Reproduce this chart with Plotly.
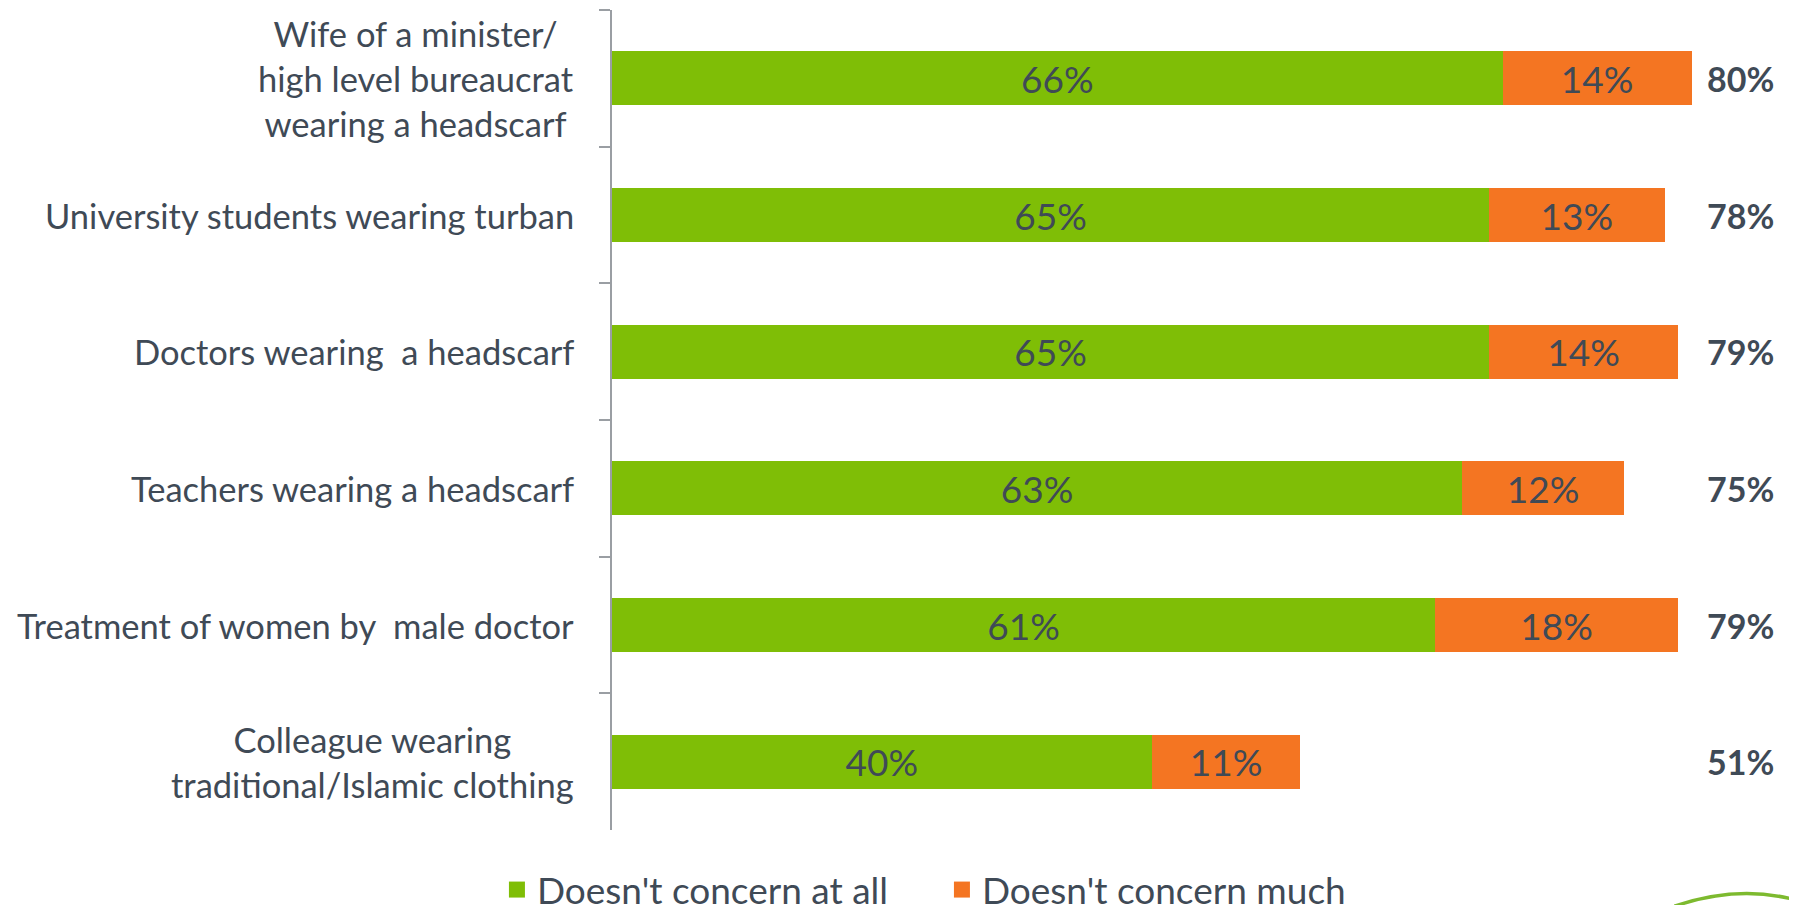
import plotly.graph_objects as go

categories = [
    "Wife of a minister/<br>high level bureaucrat<br>wearing a headscarf",
    "University students wearing turban",
    "Doctors wearing  a headscarf",
    "Teachers wearing a headscarf",
    "Treatment of women by  male doctor",
    "Colleague wearing<br>traditional/Islamic clothing",
]
not_at_all = [66, 65, 65, 63, 61, 40]
not_much = [14, 13, 14, 12, 18, 11]
totals = [80, 78, 79, 75, 79, 51]
series_names = ["Doesn't concern at all", "Doesn't concern much"]

GREEN = "#7FBE06"
ORANGE = "#F47522"
TEXT = "#3F4A56"
FONT = "Lato"

fig = go.Figure()
for name, vals, col in [(series_names[0], not_at_all, GREEN), (series_names[1], not_much, ORANGE)]:
    fig.add_trace(go.Bar(
        y=categories, x=vals, name=name, orientation="h",
        marker=dict(color=col, line=dict(width=0)),
        text=[f"{v}%" for v in vals], textposition="inside",
        insidetextanchor="middle", textangle=0,
        textfont=dict(family=FONT, size=37, color=TEXT),
        hoverinfo="skip", showlegend=False,
    ))
# legend entries with larger square swatches
for name, col in [(series_names[0], GREEN), (series_names[1], ORANGE)]:
    fig.add_trace(go.Scatter(
        x=[None], y=[None], mode="markers", name=name,
        marker=dict(symbol="square", size=21, color=col),
        showlegend=True, hoverinfo="skip",
    ))

annotations = []
for cat, tot in zip(categories, totals):
    annotations.append(dict(
        x=83.6, y=cat, xref="x", yref="y", text=f"<b>{tot}%</b>",
        showarrow=False, xanchor="center", yanchor="middle",
        font=dict(family=FONT, size=34, color=TEXT),
    ))
    annotations.append(dict(
        x=0, y=cat, xref="x", yref="y", text=cat, showarrow=False,
        xanchor="right", yanchor="middle", align="center", xshift=-36,
        font=dict(family=FONT, size=34.5, color=TEXT),
    ))

# decorative logo arc at the bottom-right corner
shapes = [dict(
    type="path", xref="paper", yref="paper",
    path="M 0.905,-0.093 Q 0.96,-0.066 1.01,-0.086",
    line=dict(color="#7DBA2F", width=3.5),
)]

fig.update_layout(
    barmode="stack",
    bargap=0.605,
    width=1789, height=897,
    margin=dict(l=604, r=10.5, t=1.5, b=75),
    paper_bgcolor="white", plot_bgcolor="white",
    showlegend=True,
    legend=dict(
        orientation="h", xref="container", yref="container",
        x=0.2733, y=0.0167, xanchor="left", yanchor="middle",
        font=dict(family=FONT, size=37, color=TEXT),
        entrywidth=400, entrywidthmode="pixels",
        traceorder="normal", itemsizing="trace",
    ),
    annotations=annotations,
    shapes=shapes,
    xaxis=dict(range=[0, 87], visible=False, fixedrange=True),
    yaxis=dict(
        autorange="reversed", showticklabels=False, showgrid=False,
        showline=True, linecolor="#9A9EA3", linewidth=1.5,
        ticks="outside", tickson="boundaries", ticklen=11,
        tickcolor="#9A9EA3", tickwidth=1.5, zeroline=False,
    ),
    font=dict(family=FONT, color=TEXT),
)

fig.write_html("out.html")
